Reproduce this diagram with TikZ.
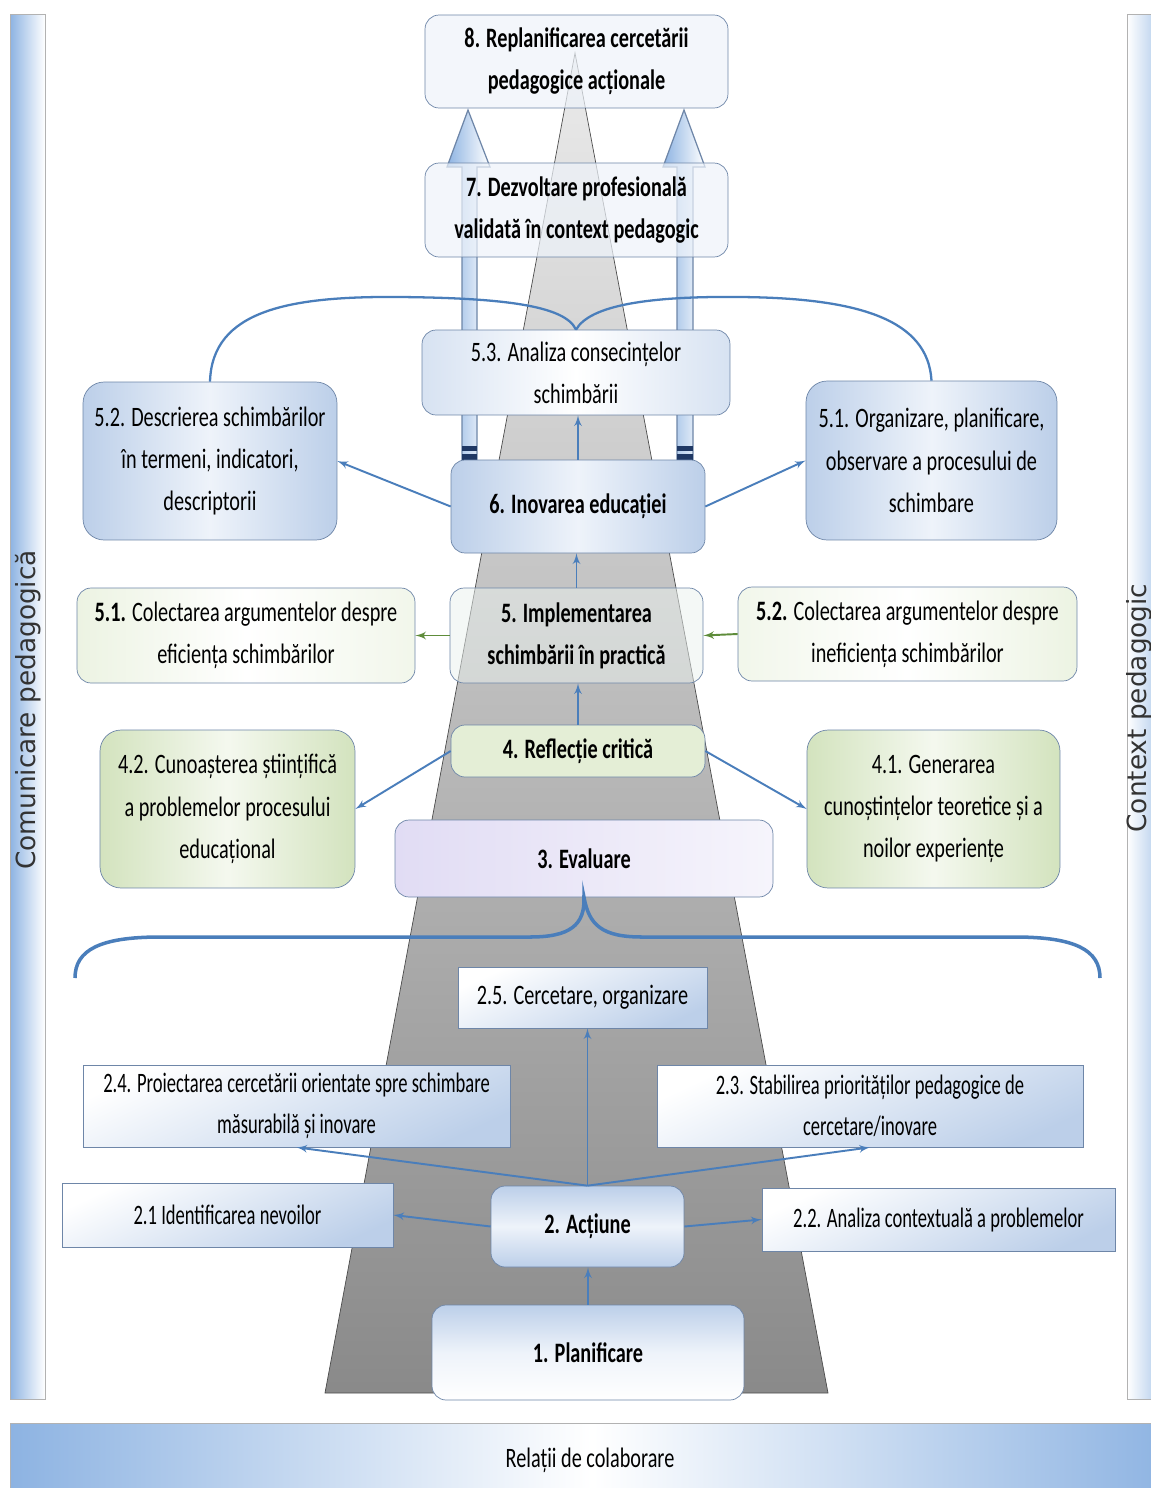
\documentclass[tikz,border=0pt]{standalone}
\usepackage{fontspec}
\setmainfont{Carlito}[FakeStretch=0.72]
\newfontfamily\narrowfont{Carlito}[FakeStretch=0.66]
\newfontfamily\sidefont{DejaVu Sans}
\usepackage{tikz}
\usetikzlibrary{shapes,arrows,positioning,calc}

\definecolor{boxline}{HTML}{6E86A8}
\definecolor{arrowblue}{HTML}{4A7EBB}
\definecolor{arrowgreen}{HTML}{5E8C3A}
\definecolor{paleblue}{HTML}{EEF3FA}
\definecolor{midblue}{HTML}{BCCFE9}
\definecolor{palegreen}{HTML}{E4EED6}
\definecolor{midgreen}{HTML}{D3E3BE}
\definecolor{lavender}{HTML}{E1DCF4}
\definecolor{barblue}{HTML}{8DB3E2}
\definecolor{navyband}{HTML}{1F3864}

\newcommand{\boxfont}{\fontsize{16}{24}\selectfont}
\newcommand{\narrowboxfont}{\narrowfont\fontsize{16}{23}\selectfont}

\begin{document}
\begin{tikzpicture}[
    x=0.02cm,
    y=-0.02cm,
    rbox/.style={
        draw=boxline,
        rounded corners=8pt,
        align=center,
        inner sep=2pt,
        font=\boxfont
    },
    titlebox/.style={
        rbox,
        font=\boxfont\bfseries
    },
    sbox/.style={
        draw=boxline,
        align=center,
        inner sep=2pt,
        font=\narrowboxfont,
        top color=white,
        bottom color=midblue,
        shading angle=25
    },
    bluefill/.style={left color=midblue, right color=midblue, middle color=paleblue},
    greenfill/.style={left color=midgreen, right color=midgreen, middle color=palegreen!40!white},
    seefill/.style={fill=paleblue, fill opacity=0.7, text opacity=1},
    sidebar/.style={draw=gray!60, line width=0.5pt},
    hollow/.style={draw=boxline, line width=0.7pt, left color=barblue, right color=white},
    line/.style={
        draw=arrowblue,
        -latex',
        line width=1.1pt
    },
    greenline/.style={
        draw=arrowgreen,
        -latex',
        line width=1.1pt
    },
    brace/.style={draw=arrowblue, line width=1.3pt},
    bigbrace/.style={draw=arrowblue, line width=2pt}
]

\clip (0,0) rectangle (1151,1488);
\fill[white] (0,0) rectangle (1151,1488);

% Frame
\node[sidebar, left color=barblue, right color=white, minimum width=0.7cm, minimum height=27.72cm] (leftbar) at (27.5,707) {};
\node[rotate=90, text=black!80, font=\sidefont\fontsize{15}{18}\selectfont] (leftlabel) at (28,710) {Comunicare pedagogică};
\node[sidebar, left color=white, right color=barblue, minimum width=0.96cm, minimum height=27.72cm] (rightbar) at (1151,707) {};
\node[rotate=90, text=black!80, inner sep=0pt, font=\sidefont\fontsize{15}{18}\selectfont] (rightlabel) at (1139,708) {Context pedagogic};
\node[sidebar, left color=barblue, right color=barblue, middle color=white, minimum width=23.3cm, minimum height=1.54cm] (bottombar) at (592.5,1461.5) {};
\node[font=\boxfont] (bottomlabel) at (590,1460) {Relații de colaborare};

% Road
\draw[gray!60!black, line width=0.4pt, top color=black!8, middle color=black!32, bottom color=black!46] (325,1393) -- (575,53) -- (828,1393) -- cycle;

% Block arrows
\draw[hollow] (462,460) -- (462,167) -- (447,167) -- (468,110) -- (490,167) -- (477,167) -- (477,460) -- cycle;
\draw[hollow] (677,460) -- (677,167) -- (663,167) -- (684,110) -- (705,167) -- (693,167) -- (693,460) -- cycle;
\fill[navyband] (462,446) rectangle (477,451);
\fill[navyband] (462,454) rectangle (477,460);
\fill[navyband] (677,446) rectangle (693,451);
\fill[navyband] (677,454) rectangle (693,460);

% Nodes
\node[titlebox, seefill, minimum width=6.06cm, minimum height=1.86cm] (b8) at (576.5,61.5) {8. Replanificarea cercetării\\pedagogice acționale};
\node[titlebox, seefill, minimum width=6.06cm, minimum height=1.88cm] (b7) at (576.5,210) {7. Dezvoltare profesională\\validată în context pedagogic};
\node[rbox, left color=midblue!60, right color=midblue!60, middle color=white, minimum width=6.16cm, minimum height=1.7cm] (b53) at (576,372.5) {5.3. Analiza consecințelor\\schimbării};
\node[titlebox, bluefill, minimum width=5.08cm, minimum height=1.86cm] (b6) at (578,506.5) {6. Inovarea educației};
\node[rbox, bluefill, rounded corners=12pt, minimum width=5.08cm, minimum height=3.16cm] (b52d) at (210,461) {5.2. Descrierea schimbărilor\\în termeni, indicatori,\\descriptorii};
\node[rbox, bluefill, rounded corners=12pt, minimum width=5.02cm, minimum height=3.18cm] (b51o) at (931.5,460.5) {5.1. Organizare, planificare,\\observare a procesului de\\schimbare};
\node[titlebox, fill=paleblue!70!palegreen, fill opacity=0.5, text opacity=1, minimum width=5.06cm, minimum height=1.9cm] (b5) at (576.5,635.5) {5. Implementarea\\schimbării în practică};
\node[rbox, left color=palegreen!70, right color=palegreen!50, middle color=white, minimum width=6.76cm, minimum height=1.9cm] (b51c) at (246,635.5) {\textbf{5.1.} Colectarea argumentelor despre\\eficiența schimbărilor};
\node[rbox, left color=palegreen!50, right color=palegreen!70, middle color=white, minimum width=6.78cm, minimum height=1.88cm] (b52c) at (907.5,634) {\textbf{5.2.} Colectarea argumentelor despre\\ineficiența schimbărilor};
\node[titlebox, fill=palegreen, minimum width=5.08cm, minimum height=1.04cm] (b4) at (578,751) {4. Reflecție critică};
\node[rbox, greenfill, rounded corners=12pt, minimum width=5.1cm, minimum height=3.16cm] (b42) at (227.5,809) {4.2. Cunoașterea științifică\\a problemelor procesului\\educațional};
\node[rbox, greenfill, rounded corners=12pt, minimum width=5.06cm, minimum height=3.16cm] (b41) at (933.5,809) {4.1. Generarea\\cunoștințelor teoretice și a\\noilor experiențe};
\node[titlebox, left color=lavender, right color=lavender!30, minimum width=7.56cm, minimum height=1.54cm] (b3) at (584,858.5) {3. Evaluare};
\node[sbox, font=\boxfont, minimum width=4.98cm, minimum height=1.22cm] (b25) at (582.5,997.5) {2.5. Cercetare, organizare};
\node[sbox, minimum width=8.54cm, minimum height=1.64cm] (b24) at (296.5,1106) {2.4. Proiectarea cercetării orientate spre schimbare\\măsurabilă și inovare};
\node[sbox, minimum width=8.52cm, minimum height=1.64cm] (b23) at (870,1106) {2.3. Stabilirea priorităților pedagogice de\\cercetare/inovare};
\node[sbox, minimum width=6.62cm, minimum height=1.28cm] (b21) at (227.5,1215) {2.1 Identificarea nevoilor};
\node[titlebox, top color=midblue, bottom color=midblue, middle color=paleblue, minimum width=3.86cm, minimum height=1.62cm] (b2) at (587.5,1226.5) {2. Acțiune};
\node[sbox, minimum width=7.06cm, minimum height=1.26cm] (b22) at (938.5,1219.5) {2.2. Analiza contextuală a problemelor};
\node[titlebox, top color=midblue, bottom color=white, middle color=paleblue, minimum width=6.24cm, minimum height=1.9cm] (b1) at (588,1352.5) {1. Planificare};

% Edges
\path [line] (b1.north) -- (b1.north |- b2.south);
\path [line] (b2.north) -- (b2.north |- b25.south);
\path [line] (b2.north) -- (b24.south);
\path [line] (b2.north) -- (b23.south);
\path [line] (b2.west) -- (b21.east);
\path [line] (b2.east) -- (b22.west);
\path [line] (b4.north) -- (b4.north |- b5.south);
\path [line] (b4.west) -- (b42.east);
\path [line] (b4.east) -- (b41.west);
\path [greenline] (b5.west) -- (b51c.east);
\path [greenline] (b52c.west) -- (b5.east);
\path [line] (b5.north) -- (b5.north |- b6.south);
\path [line] (b6.north) -- (b6.north |- b53.south);
\path [line] (b6.west) -- (b52d.east);
\path [line] (b6.east) -- (b51o.west);

% Braces
\coordinate (braceL) at (75,978);
\coordinate (braceR) at (1100,978);
\draw[bigbrace] (braceL) .. controls (75,950) and (100,937) .. (160,937) -- (530,937) .. controls (570,937) and (585,925) .. (b3.south) .. controls (589,925) and (602,937) .. (642,937) -- (1015,937) .. controls (1075,937) and (1100,950) .. (braceR);
\draw[brace] (b52d.north) .. controls (212,310) and (290,296) .. (400,297) .. controls (500,298) and (565,305) .. (b53.north);
\draw[brace] (b53.north) .. controls (590,305) and (650,296) .. (740,297) .. controls (860,298) and (928,320) .. (b51o.north);

\end{tikzpicture}
\end{document}
